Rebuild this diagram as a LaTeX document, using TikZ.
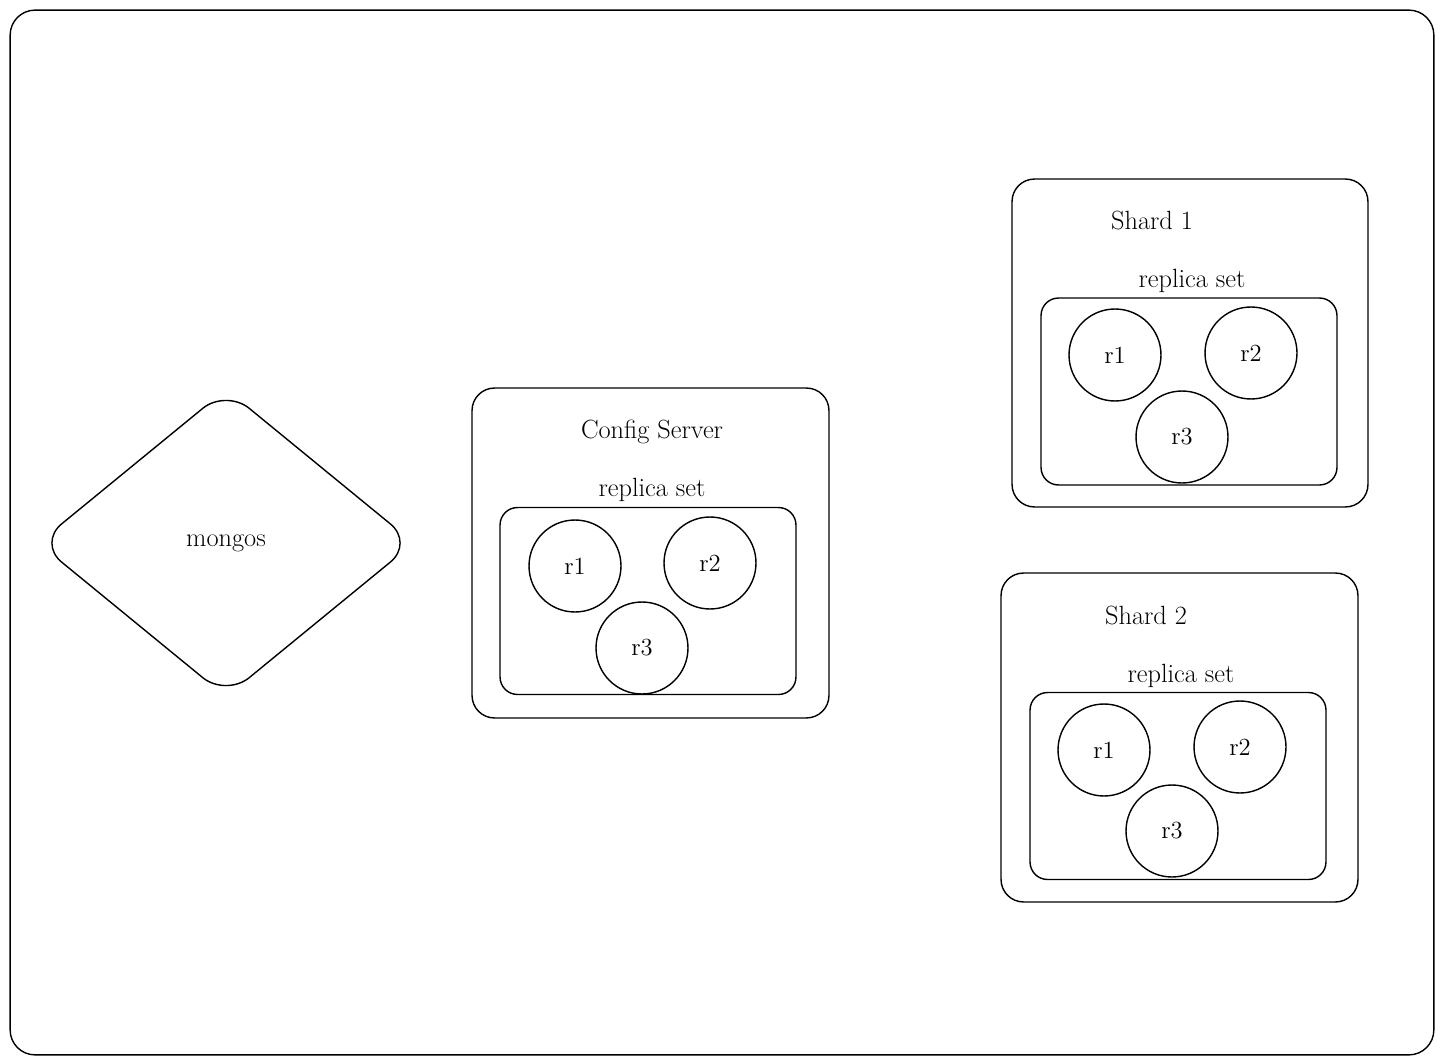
\documentclass[tikz,border=0pt]{standalone}
\usepackage{amsmath, amssymb}
\usepackage{tikz}
\usetikzlibrary{shapes.geometric}
\tikzset{
  box/.style={draw, line width=0.8pt, rounded corners=0.45cm, inner sep=0pt},
  setbox/.style={draw, line width=0.8pt, rounded corners=0.35cm, inner sep=0pt,
                 minimum width=5.92cm, minimum height=3.74cm},
  rep/.style={draw, line width=0.8pt, circle, minimum size=1.84cm, inner sep=0pt,
              font=\fontsize{14}{16}\selectfont},
  lbl/.style={font=\fontsize{15}{18}\selectfont}
}
\begin{document}
\begin{tikzpicture}[x=0.02cm, y=-0.02cm]
\useasboundingbox (0,0) rectangle (1444,1064);
\node [box, rounded corners=0.5cm, minimum width=28.48cm, minimum height=20.9cm] (frame) at (722,532.5) {};
% mongos
\node [draw, diamond, line width=0.8pt, rounded corners=0.6cm, minimum width=7.52cm, minimum height=6.16cm, inner sep=0pt, lbl] (mongos) at (226,543) {mongos};
% config server
\node [box, minimum width=7.14cm, minimum height=6.6cm] (cfg) at (650.5,553) {};
\node [lbl] (cfgname) at (652,432) {Config Server};
\node [lbl] (cfgtitle) at (652,490) {replica set};
\node [setbox] (cfgset) at (648,601) {};
\node [rep] (cfgr1) at (575,566) {r1};
\node [rep] (cfgr2) at (710,563) {r2};
\node [rep] (cfgr3) at (642,648) {r3};
% shard 1
\node [box, minimum width=7.12cm, minimum height=6.56cm] (shardA) at (1190,343) {};
\node [lbl] (shardAname) at (1152,221) {Shard 1};
\node [lbl] (shardAtitle) at (1192,281) {replica set};
\node [setbox] (shardAset) at (1189,391.5) {};
\node [rep] (shardAr1) at (1115,355) {r1};
\node [rep] (shardAr2) at (1251,353) {r2};
\node [rep] (shardAr3) at (1182,437) {r3};
% shard 2
\node [box, minimum width=7.14cm, minimum height=6.58cm] (shardB) at (1179.5,737.5) {};
\node [lbl] (shardBname) at (1146,615) {Shard 2};
\node [lbl] (shardBtitle) at (1181,676) {replica set};
\node [setbox] (shardBset) at (1178,786) {};
\node [rep] (shardBr1) at (1104,750) {r1};
\node [rep] (shardBr2) at (1240,747) {r2};
\node [rep] (shardBr3) at (1172,831) {r3};
\end{tikzpicture}
\end{document}
